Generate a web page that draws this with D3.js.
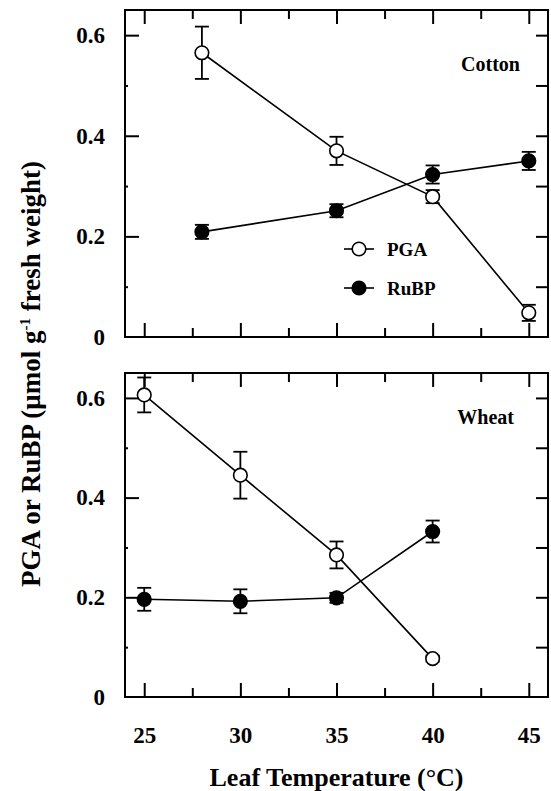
<!DOCTYPE html>
<html><head><meta charset="utf-8">
<script src="https://cdn.jsdelivr.net/npm/d3@7"></script>
<style>
body{margin:0;background:#fff;}
svg{display:block;}
text{font-family:"Liberation Serif","Times New Roman",serif;font-weight:bold;fill:#000;}
</style></head>
<body>
<svg id="c" width="551" height="791"></svg>
<script>
// ---- data ----
const xTicks = [25, 30, 35, 40, 45];
const xMinor = [27.5, 32.5, 37.5, 42.5];
const yTicks = [0, 0.2, 0.4, 0.6];
const yMinor = [0.1, 0.3, 0.5];

const cottonTemp = [28, 35, 40, 45];
const cottonPGA = [0.565, 0.370, 0.279, 0.048];
const cottonPGAerr = [0.052, 0.028, 0.013, 0.016];
const cottonRuBP = [0.209, 0.251, 0.323, 0.350];
const cottonRuBPerr = [0.014, 0.013, 0.018, 0.018];

const wheatTemp = [25, 30, 35, 40];
const wheatPGA = [0.606, 0.445, 0.285, 0.077];
const wheatPGAerr = [0.035, 0.047, 0.027, 0.006];
const wheatRuBP = [0.196, 0.192, 0.199, 0.332];
const wheatRuBPerr = [0.023, 0.024, 0.010, 0.022];

const seriesNames = ["PGA", "RuBP"];
const panelNames = ["Cotton", "Wheat"];

// ---- layout ----
const svg = d3.select("#c");
const L = 125, R = 548;
const panels = [
  {name: panelNames[0], top: 10, bottom: 337, temp: cottonTemp,
   pga: cottonPGA, pgaE: cottonPGAerr, rubp: cottonRuBP, rubpE: cottonRuBPerr,
   labelX: 520, labelY: 71, legend: true, xlabels: false},
  {name: panelNames[1], top: 373, bottom: 697, temp: wheatTemp,
   pga: wheatPGA, pgaE: wheatPGAerr, rubp: wheatRuBP, rubpE: wheatRuBPerr,
   labelX: 514, labelY: 424, legend: false, xlabels: true}
];

const x = d3.scaleLinear().domain([24, 46]).range([L, R]);
const fmt = d => d === 0 ? "0" : d3.format(".1f")(d);

panels.forEach(p => {
  const y = d3.scaleLinear().domain([0, 0.65]).range([p.bottom, p.top]);
  const g = svg.append("g");

  // left axis (major ticks inward + labels)
  const la = g.append("g").attr("transform", `translate(${L},0)`)
    .call(d3.axisLeft(y).tickValues(yTicks).tickSizeInner(-14).tickSizeOuter(0).tickPadding(20).tickFormat(fmt));
  la.select(".domain").remove();
  la.selectAll("line").attr("stroke-width", 2).filter(d => d === 0).remove();
  la.selectAll("text").style("font-size", "23px").attr("font-family", null);

  g.append("g").attr("transform", `translate(${L},0)`)
    .call(d3.axisLeft(y).tickValues(yMinor).tickSizeInner(-3).tickSizeOuter(0).tickFormat(""))
    .call(s => s.select(".domain").remove())
    .selectAll("line").attr("stroke-width", 2);

  // right axis ticks
  g.append("g").attr("transform", `translate(${R},0)`)
    .call(d3.axisRight(y).tickValues([0.1,0.2,0.3,0.4,0.5,0.6]).tickSizeInner(-12).tickSizeOuter(0).tickFormat(""))
    .call(s => s.select(".domain").remove())
    .selectAll("line").attr("stroke-width", 2);

  // bottom axis
  const ba = g.append("g").attr("transform", `translate(0,${p.bottom})`)
    .call(d3.axisBottom(x).tickValues(xTicks).tickSizeInner(-14).tickSizeOuter(0).tickPadding(p.xlabels ? 30 : 0).tickFormat(p.xlabels ? d3.format("d") : ""));
  ba.select(".domain").remove();
  ba.selectAll("line").attr("stroke-width", 2);
  ba.selectAll("text").style("font-size", "23px").attr("font-family", null);

  g.append("g").attr("transform", `translate(0,${p.bottom})`)
    .call(d3.axisBottom(x).tickValues(xMinor).tickSizeInner(-9).tickSizeOuter(0).tickFormat(""))
    .call(s => s.select(".domain").remove())
    .selectAll("line").attr("stroke-width", 2);

  // top axis ticks
  g.append("g").attr("transform", `translate(0,${p.top})`)
    .call(d3.axisTop(x).tickValues(xTicks).tickSizeInner(-14).tickSizeOuter(0).tickFormat(""))
    .call(s => s.select(".domain").remove())
    .selectAll("line").attr("stroke-width", 2);
  g.append("g").attr("transform", `translate(0,${p.top})`)
    .call(d3.axisTop(x).tickValues(xMinor).tickSizeInner(-9).tickSizeOuter(0).tickFormat(""))
    .call(s => s.select(".domain").remove())
    .selectAll("line").attr("stroke-width", 2);

  // frame
  g.append("rect").attr("x", L).attr("y", p.top).attr("width", R - L).attr("height", p.bottom - p.top)
    .attr("fill", "none").attr("stroke", "#000").attr("stroke-width", 2);

  const line = d3.line().x(d => x(d[0])).y(d => y(d[1]));
  const series = [
    {vals: p.pga, err: p.pgaE, fill: "#fff"},
    {vals: p.rubp, err: p.rubpE, fill: "#000"}
  ];
  series.forEach(s => {
    const pts = p.temp.map((t, i) => [t, s.vals[i], s.err[i]]);
    g.append("path").datum(pts).attr("d", line).attr("fill", "none").attr("stroke", "#000").attr("stroke-width", 1.6);
    const eb = g.append("g").selectAll("g").data(pts).join("g");
    eb.append("line").attr("x1", d => x(d[0])).attr("x2", d => x(d[0]))
      .attr("y1", d => y(d[1] - d[2])).attr("y2", d => y(d[1] + d[2]))
      .attr("stroke", "#000").attr("stroke-width", 1.8);
    [-1, 1].forEach(k => {
      eb.append("line").attr("x1", d => x(d[0]) - 7).attr("x2", d => x(d[0]) + 7)
        .attr("y1", d => y(d[1] + k * d[2])).attr("y2", d => y(d[1] + k * d[2]))
        .attr("stroke", "#000").attr("stroke-width", 1.8);
    });
  });
  series.forEach(s => {
    const pts = p.temp.map((t, i) => [t, s.vals[i]]);
    g.append("g").selectAll("circle").data(pts).join("circle")
      .attr("cx", d => x(d[0])).attr("cy", d => y(d[1])).attr("r", 6.8)
      .attr("fill", s.fill).attr("stroke", "#000").attr("stroke-width", 1.6);
  });

  // panel label
  g.append("text").attr("x", p.labelX).attr("y", p.labelY).attr("text-anchor", "end")
    .style("font-size", "20px").text(p.name);

  if (p.legend) {
    const lg = g.append("g");
    const ly = [249, 288];
    const fills = ["#fff", "#000"];
    seriesNames.forEach((n, i) => {
      lg.append("line").attr("x1", 344).attr("x2", 374).attr("y1", ly[i]).attr("y2", ly[i])
        .attr("stroke", "#000").attr("stroke-width", 1.6);
      lg.append("circle").attr("cx", 359).attr("cy", ly[i]).attr("r", 6.8)
        .attr("fill", fills[i]).attr("stroke", "#000").attr("stroke-width", 1.6);
      lg.append("text").attr("x", 387).attr("y", ly[i] + 7).style("font-size", "19px").text(n);
    });
  }
});

// axis titles
svg.append("text").attr("x", (L + R) / 2).attr("y", 786).attr("text-anchor", "middle")
  .style("font-size", "26px").text("Leaf Temperature (°C)");

const yt = svg.append("text").attr("transform", "translate(40,374) rotate(-90)")
  .attr("text-anchor", "middle").style("font-size", "27px");
yt.append("tspan").text("PGA or RuBP (μmol g");
yt.append("tspan").attr("dy", -10).style("font-size", "15px").text("-1");
yt.append("tspan").attr("dy", 10).text(" fresh weight)");
</script>
</body></html>
